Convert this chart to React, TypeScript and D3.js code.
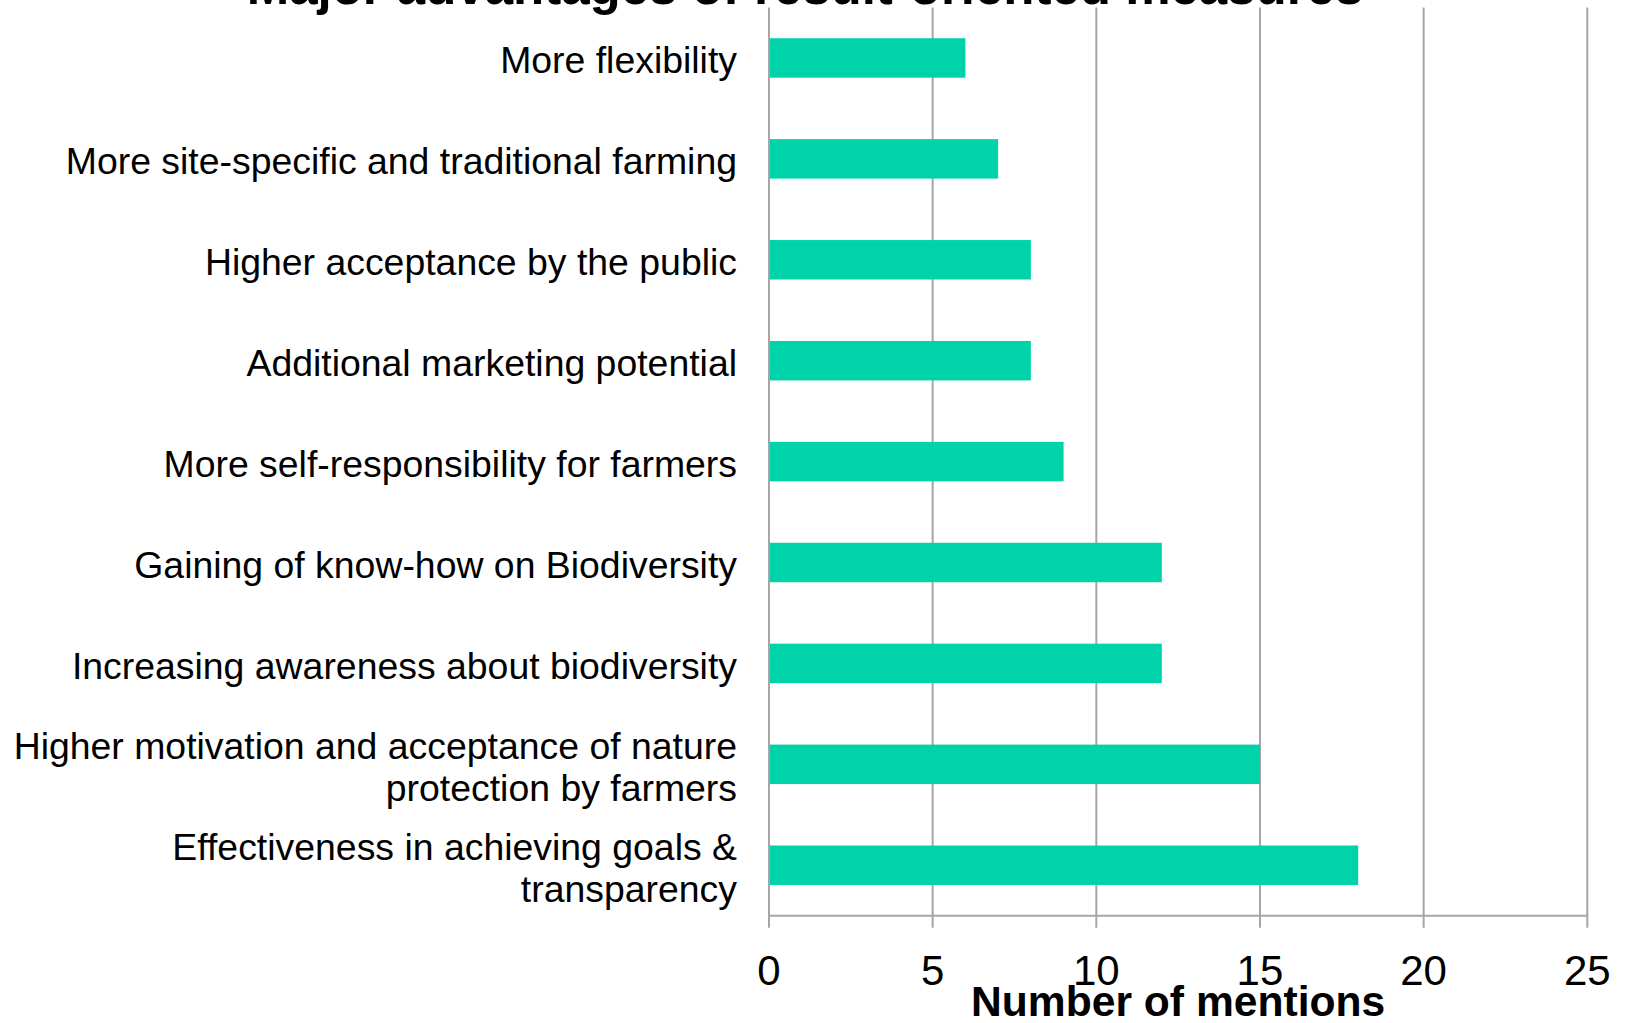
import React from "react";
import * as d3 from "d3";

const title = "Major advantages of result-oriented measures";
const xAxisTitle = "Number of mentions";

const categories: string[][] = [
  ["More flexibility"],
  ["More site-specific and traditional farming"],
  ["Higher acceptance by the public"],
  ["Additional marketing potential"],
  ["More self-responsibility for farmers"],
  ["Gaining of know-how on Biodiversity"],
  ["Increasing awareness about biodiversity"],
  ["Higher motivation and acceptance of nature", "protection by farmers"],
  ["Effectiveness in achieving goals &", "transparency"],
];

const mentions: number[] = [6, 7, 8, 8, 9, 12, 12, 15, 18];

const xTicks: number[] = [0, 5, 10, 15, 20, 25];

const W = 1627;
const H = 1023;
const plotLeft = 769;
const plotRight = 1587.3;
const plotTop = 7.5;
const plotBottom = 915.7;
const FONT = "'Liberation Sans', Arial, Helvetica, sans-serif";
const BAR = "#00D2AA";
const GRID = "#A6A6A6";

export default function App() {
  const x = d3.scaleLinear().domain([0, 25]).range([plotLeft, plotRight]);
  const idx = categories.map((_, i) => String(i));
  const y = d3
    .scaleBand<string>()
    .domain(idx)
    .range([plotTop, plotBottom])
    .paddingInner(0.609)
    .paddingOuter(0.3045);

  const labelX = 737;
  const labelSize = 37.4;
  const lineGap = 42;

  return (
    <svg
      width={W}
      height={H}
      viewBox={`0 0 ${W} ${H}`}
      style={{ position: "absolute", left: 0, top: 0, background: "#fff" }}
      fontFamily={FONT}
    >
      <rect x={0} y={0} width={W} height={H} fill="#fff" />
      {/* title (cut at top) */}
      <text
        x={805}
        y={4}
        textAnchor="middle"
        fontSize={51}
        fontWeight="bold"
        fill="#000"
      >
        {title}
      </text>

      {/* vertical gridlines + ticks */}
      {xTicks.map((t) => (
        <g key={t}>
          <line
            x1={x(t)}
            x2={x(t)}
            y1={plotTop}
            y2={plotBottom + 12}
            stroke={GRID}
            strokeWidth={2}
          />
          <text
            x={x(t)}
            y={985}
            textAnchor="middle"
            fontSize={42}
            fill="#000"
          >
            {t}
          </text>
        </g>
      ))}
      {/* x axis line */}
      <line
        x1={plotLeft}
        x2={plotRight}
        y1={plotBottom}
        y2={plotBottom}
        stroke={GRID}
        strokeWidth={2}
      />

      {/* bars */}
      {mentions.map((v, i) => (
        <rect
          key={i}
          x={x(0) + 1}
          y={y(String(i))!}
          width={x(v) - x(0) - 1}
          height={y.bandwidth()}
          fill={BAR}
        />
      ))}

      {/* category labels */}
      {categories.map((lines, i) => {
        const cy = y(String(i))! + y.bandwidth() / 2;
        const first = cy + 15.5 - ((lines.length - 1) * lineGap) / 2;
        return (
          <text
            key={i}
            textAnchor="end"
            fontSize={labelSize}
            fill="#000"
          >
            {lines.map((ln, j) => (
              <tspan key={j} x={labelX} y={first + j * lineGap}>
                {ln}
              </tspan>
            ))}
          </text>
        );
      })}

      {/* axis title */}
      <text
        x={(plotLeft + plotRight) / 2}
        y={1016}
        textAnchor="middle"
        fontSize={42.6}
        fontWeight="bold"
        fill="#000"
      >
        {xAxisTitle}
      </text>
    </svg>
  );
}
